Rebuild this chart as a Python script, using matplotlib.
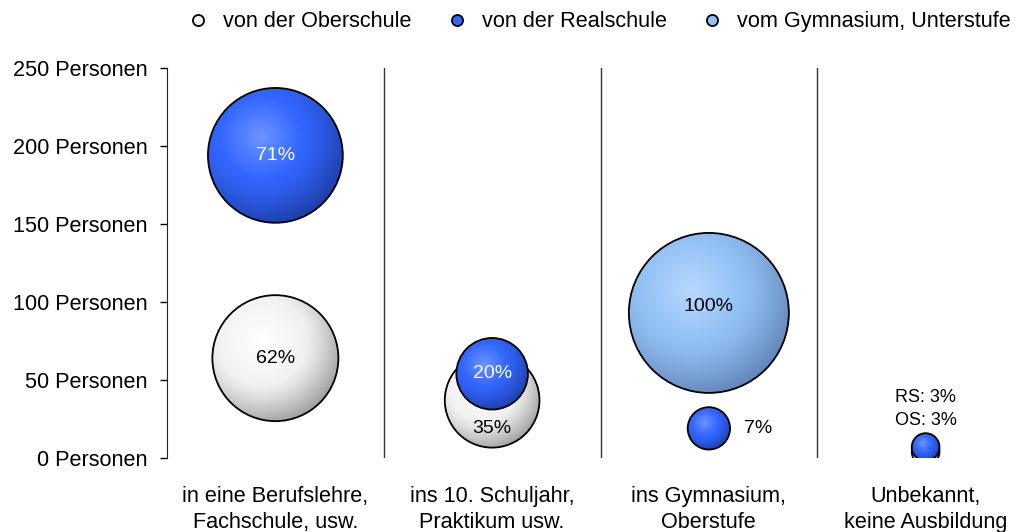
import matplotlib
matplotlib.use("Agg")
import matplotlib.pyplot as plt
from matplotlib.patches import Ellipse
from matplotlib.lines import Line2D
import numpy as np

plt.rcParams['font.family'] = ['Liberation Sans', 'DejaVu Sans']

# Kategorien (x-Achse)
categories = ["in eine Berufslehre,\nFachschule, usw.",
              "ins 10. Schuljahr,\nPraktikum usw.",
              "ins Gymnasium,\nOberstufe",
              "Unbekannt,\nkeine Ausbildung"]

# Serien: y = Personen, pct = Anteil (Blasengröße)
os_x = [0, 1, 3]
os_y = [64, 37, 4]
os_pct = [62, 35, 3]

rs_x = [0, 1, 2, 3]
rs_y = [194, 54, 19, 7]
rs_pct = [71, 20, 7, 3]

gym_x = [2]
gym_y = [93]
gym_pct = [100]

series_names = ["von der Oberschule", "von der Realschule", "vom Gymnasium, Unterstufe"]
yticks = [0, 50, 100, 150, 200, 250]

# Farben: Glanzlicht, Mitte, Rand
col_os = [(1.0, 1.0, 1.0), (0.95, 0.95, 0.95), (0.62, 0.62, 0.62)]
col_rs = [(0.42, 0.58, 1.0), (0.20, 0.40, 1.0), (0.11, 0.24, 0.64)]
col_gym = [(0.72, 0.85, 1.0), (0.58, 0.76, 0.96), (0.38, 0.52, 0.72)]

W, H = 1033, 532
fig = plt.figure(figsize=(W / 100, H / 100), dpi=100)
ax_l, ax_b, ax_r, ax_t = 167, 74, 1034, 464
ax = fig.add_axes([ax_l / W, ax_b / H, (ax_r - ax_l) / W, (ax_t - ax_b) / H])
ax.set_xlim(0, 4)
ax.set_ylim(0, 250)

px_x = 4 / (ax_r - ax_l)
px_y = 250 / (ax_t - ax_b)

n = 240
u, v = np.meshgrid(np.linspace(-1, 1, n), np.linspace(-1, 1, n))


def sphere(xc, yc, pct, cols, z, knee=0.45):
    r = 8 * np.sqrt(pct)
    rx, ry = r * px_x, r * px_y
    hx, hy = -0.22, 0.28
    d = np.sqrt((u - hx) ** 2 + (v - hy) ** 2) / (1 + np.hypot(hx, hy))
    d = np.clip(d, 0, 1)
    c0, c1, c2 = [np.array(c) for c in cols]
    t1 = np.clip(d / knee, 0, 1)[..., None]
    t2 = np.clip((d - knee) / (1 - knee), 0, 1)[..., None] ** 1.3
    img = np.where(d[..., None] < knee, c0 + (c1 - c0) * t1, c1 + (c2 - c1) * t2)
    im = ax.imshow(img, extent=[xc - rx, xc + rx, yc - ry, yc + ry], origin='lower',
                   aspect='auto', interpolation='bilinear', zorder=z)
    clip = Ellipse((xc, yc), 2 * rx, 2 * ry, transform=ax.transData)
    im.set_clip_path(clip)
    ax.add_patch(Ellipse((xc, yc), 2 * rx, 2 * ry, fill=False, ec='black', lw=1.3, zorder=z + 0.1))


for i in range(len(os_x)):
    sphere(os_x[i] + 0.5, os_y[i], os_pct[i], col_os, 2, knee=0.5)
for i in range(len(rs_x)):
    sphere(rs_x[i] + 0.5, rs_y[i], rs_pct[i], col_rs, 3)
for i in range(len(gym_x)):
    sphere(gym_x[i] + 0.5, gym_y[i], gym_pct[i], col_gym, 4)

ax.set_xlim(0, 4)
ax.set_ylim(0, 250)

fs = 14
# Beschriftungen
ax.text(0.5, rs_y[0], f"{rs_pct[0]}%", color='white', ha='center', va='center', fontsize=fs, zorder=10)
ax.text(0.5, os_y[0], f"{os_pct[0]}%", color='black', ha='center', va='center', fontsize=fs, zorder=10)
ax.text(1.5, rs_y[1], f"{rs_pct[1]}%", color='white', ha='center', va='center', fontsize=fs, zorder=10)
ax.text(1.5, os_y[1] - 18, f"{os_pct[1]}%", color='black', ha='center', va='center', fontsize=fs, zorder=10)
ax.text(2.5, gym_y[0] + 4, f"{gym_pct[0]}%", color='black', ha='center', va='center', fontsize=fs, zorder=10)
ax.text(2.5 + 0.16, rs_y[2], f"{rs_pct[2]}%", color='black', ha='left', va='center', fontsize=fs, zorder=10)
ax.text(3.5, 39, f"RS: {rs_pct[3]}%", color='black', ha='center', va='center', fontsize=fs - 1, zorder=10)
ax.text(3.5, 24, f"OS: {os_pct[2]}%", color='black', ha='center', va='center', fontsize=fs - 1, zorder=10)

# Trennlinien
for xs in [1, 2, 3]:
    ax.plot([xs, xs], [0, 250], color='#333333', lw=1, zorder=1)

ax.set_yticks(yticks)
ax.set_yticklabels([f"{t} Personen" for t in yticks], fontsize=15.6)
ax.set_xticks([0.5, 1.5, 2.5, 3.5])
ax.set_xticklabels(categories, fontsize=15.6, linespacing=1.3)
ax.tick_params(axis='x', length=0, pad=20)
ax.tick_params(axis='y', length=5, width=1, direction='out', pad=9)
for s in ['top', 'right', 'bottom']:
    ax.spines[s].set_visible(False)
ax.spines['left'].set_color('#222222')

handles = [Line2D([], [], ls='', marker='o', ms=8, mfc=col_os[1], mec='black', mew=1.3),
           Line2D([], [], ls='', marker='o', ms=8, mfc=col_rs[1], mec='black', mew=1.3),
           Line2D([], [], ls='', marker='o', ms=8, mfc=col_gym[1], mec='black', mew=1.3)]
fig.legend(handles, series_names, loc='center', bbox_to_anchor=(600 / W, 1 - 22 / H), ncol=3,
           frameon=False, fontsize=15.6, handlelength=0.8, handletextpad=0.75, columnspacing=1.7)

fig.savefig("out.png", dpi=100)
